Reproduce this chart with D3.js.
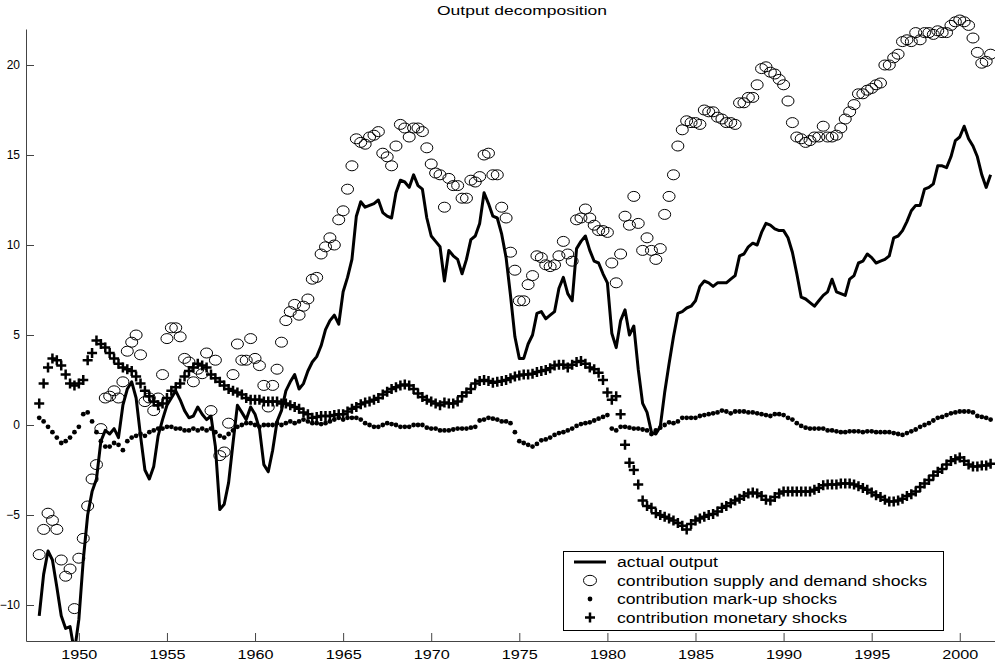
<!DOCTYPE html>
<html>
<head>
<meta charset="utf-8">
<script src="https://cdn.jsdelivr.net/npm/d3@7"></script>
<style>
  body { margin: 0; background: #fff; }
  text { font-family: "Liberation Sans", Arial, Helvetica, sans-serif; }
</style>
</head>
<body>
<script>
// quarterly data, first quarter plotted at 1947.75
const startYear = 1947.75

const actualOutput = [
  -10.6,-8.3,-7.0,-7.5,-9.0,-10.6,-11.3,-11.2,-12.6,-10.8,
  -7.5,-5.0,-3.7,-3.0,-0.9,-0.3,-0.5,-0.2,-0.7,1.1,
  2.0,2.4,1.5,-0.6,-2.5,-3.0,-2.3,-0.6,0.3,1.1,
  1.5,1.9,1.4,0.8,0.4,0.5,1.0,0.6,0.3,0.5,
  -1.2,-4.7,-4.4,-3.2,-1.0,1.1,0.7,0.3,1.0,0.6,
  -0.2,-2.2,-2.6,-1.4,0.2,0.8,1.9,2.4,2.8,2.0,
  2.3,3.0,3.5,3.8,4.4,5.3,5.8,6.1,5.6,7.4,
  8.2,9.2,11.6,12.4,12.1,12.2,12.3,12.5,11.8,11.6,
  11.5,12.9,13.6,13.5,13.2,13.9,13.3,13.1,11.5,10.5,
  10.2,9.9,8.0,9.7,9.4,9.2,8.4,9.2,10.3,10.5,
  11.2,12.9,12.3,11.6,11.5,10.6,9.3,7.2,4.9,3.7,
  3.7,4.5,5.0,6.2,6.3,5.9,6.1,6.3,7.6,8.2,
  7.3,6.9,9.8,10.2,10.5,9.7,9.1,9.0,8.4,7.9,
  5.1,4.3,5.8,6.4,5.0,5.5,3.1,1.2,0.7,-0.4,
  -0.5,-0.1,1.8,3.4,4.9,6.2,6.3,6.5,6.6,6.9,
  7.7,8.0,7.9,7.7,7.9,7.9,7.9,8.1,8.3,9.4,
  9.5,9.9,10.1,10.0,10.7,11.2,11.1,10.9,10.8,10.8,
  10.4,9.6,8.4,7.1,7.0,6.8,6.6,6.9,7.2,7.4,
  8.1,7.4,7.3,7.2,8.1,8.3,9.0,9.1,9.5,9.3,
  9.0,9.1,9.2,9.4,10.4,10.5,10.8,11.3,11.9,12.2,
  12.2,13.1,13.2,13.4,14.4,14.4,14.3,14.9,15.8,16.0,
  16.6,15.9,15.5,14.9,13.9,13.2,13.9
]

const supplyDemand = [
  -7.2,-5.8,-4.9,-5.3,-5.8,-7.5,-8.4,-8.0,-10.2,-7.4,
  -6.3,-4.5,-3.0,-2.2,-0.2,1.5,1.6,1.9,1.5,2.4,
  4.1,4.6,5.0,3.9,1.3,1.5,0.8,1.5,2.8,4.8,
  5.4,5.4,4.9,3.7,3.5,2.4,3.1,2.85,4.0,0.8,
  3.6,-1.7,-1.5,0.1,2.8,4.5,3.6,3.6,4.8,3.7,
  3.3,2.2,1.0,2.2,3.1,4.6,5.8,6.3,6.7,6.1,
  6.6,7.0,8.1,8.2,9.5,9.9,10.4,10.0,11.4,11.9,
  13.1,14.4,15.9,15.7,15.6,16.0,16.1,16.3,15.1,14.9,
  14.4,15.5,16.7,16.5,16.0,16.5,16.5,16.3,15.4,14.5,
  14.0,13.9,12.1,13.7,13.3,13.3,12.6,12.6,13.6,13.5,
  13.8,15.0,15.1,13.9,13.9,12.1,11.5,9.6,8.6,6.9,
  6.9,7.8,8.3,9.4,9.3,8.9,8.8,8.9,9.4,10.2,
  9.5,9.1,11.4,11.5,12.0,11.5,11.1,10.8,10.8,10.7,
  9.0,7.9,9.5,11.6,11.1,12.7,11.2,9.7,10.4,9.7,
  9.2,9.8,11.7,12.7,13.9,15.5,16.4,16.9,16.8,16.8,
  16.7,17.5,17.4,17.4,17.1,17.0,16.8,16.8,16.7,17.9,
  17.9,18.2,18.2,18.9,19.8,19.9,19.6,19.5,19.2,18.9,
  18.0,16.8,16.0,15.9,15.7,15.8,16.0,16.0,16.6,16.0,
  16.0,16.1,16.5,17.0,17.4,17.8,18.4,18.4,18.6,18.7,
  18.9,19.0,20.0,20.0,20.4,20.6,21.3,21.4,21.3,21.8,
  21.4,21.8,21.8,21.7,21.9,21.8,21.8,22.2,22.4,22.5,
  22.4,22.2,21.5,20.7,20.1,20.2,20.6
]

const markUp = [
  0.4,0.2,-0.1,-0.4,-0.7,-1.0,-0.9,-0.7,-0.4,-0.1,
  0.6,0.7,0.2,-0.4,-0.9,-1.2,-1.2,-1.0,-1.1,-1.4,
  -0.9,-0.7,-0.6,-0.5,-0.6,-0.4,-0.3,-0.2,-0.2,-0.1,
  -0.1,-0.2,-0.2,-0.3,-0.3,-0.2,-0.3,-0.2,-0.3,-0.2,
  -0.4,-0.6,-0.7,-0.5,-0.3,-0.1,0.0,0.1,0.1,0.0,
  -0.1,0.0,0.0,0.0,0.1,0.0,0.1,0.2,0.1,0.2,
  0.3,0.2,0.1,0.1,0.05,0.1,0.2,0.3,0.4,0.3,
  0.4,0.4,0.4,0.3,0.1,0.0,-0.1,-0.1,0.0,0.1,
  0.05,0.0,-0.1,-0.1,-0.1,0.0,0.0,0.0,-0.15,-0.2,
  -0.2,-0.3,-0.3,-0.3,-0.25,-0.2,-0.2,-0.2,-0.15,-0.1,
  0.25,0.3,0.4,0.35,0.3,0.2,0.2,0.1,-0.4,-0.9,
  -1.0,-1.1,-1.2,-1.05,-0.85,-0.8,-0.7,-0.55,-0.45,-0.4,
  -0.3,-0.2,-0.05,0.05,0.1,0.15,0.25,0.35,0.45,0.55,
  -0.2,-0.3,-0.1,-0.1,-0.15,-0.2,-0.2,-0.25,-0.3,-0.5,
  -0.3,-0.15,0.0,0.15,0.1,0.2,0.4,0.4,0.4,0.4,
  0.5,0.55,0.6,0.65,0.7,0.8,0.75,0.65,0.75,0.75,
  0.75,0.7,0.7,0.65,0.6,0.55,0.5,0.6,0.6,0.55,
  0.4,0.3,0.1,-0.05,-0.15,-0.2,-0.2,-0.2,-0.2,-0.3,
  -0.3,-0.35,-0.4,-0.4,-0.35,-0.35,-0.35,-0.4,-0.35,-0.35,
  -0.4,-0.4,-0.4,-0.4,-0.45,-0.5,-0.55,-0.45,-0.35,-0.25,
  -0.1,0.0,0.1,0.25,0.4,0.45,0.55,0.65,0.7,0.75,
  0.75,0.75,0.7,0.5,0.45,0.4,0.3
]

const monetary = [
  1.2,2.3,3.2,3.7,3.6,3.3,2.8,2.3,2.2,2.3,
  2.5,3.6,4.0,4.7,4.5,4.3,4.0,3.7,3.4,3.2,
  3.1,3.0,2.7,2.3,1.9,1.6,1.3,1.1,1.2,1.5,
  1.9,2.1,2.3,2.7,3.0,3.2,3.4,3.3,3.2,2.8,
  2.6,2.4,2.2,2.0,1.9,1.8,1.7,1.5,1.4,1.4,
  1.4,1.3,1.3,1.3,1.3,1.2,1.2,1.1,1.0,0.9,
  0.7,0.6,0.4,0.45,0.5,0.5,0.5,0.55,0.6,0.6,
  0.75,0.9,1.0,1.15,1.25,1.3,1.4,1.5,1.7,1.85,
  2.0,2.1,2.2,2.25,2.2,2.0,1.75,1.55,1.4,1.3,
  1.2,1.1,1.25,1.2,1.2,1.3,1.6,1.8,2.0,2.3,
  2.45,2.5,2.45,2.35,2.4,2.45,2.5,2.6,2.7,2.75,
  2.8,2.8,2.85,2.95,3.0,3.05,3.15,3.3,3.35,3.35,
  3.2,3.35,3.5,3.55,3.4,3.2,3.1,2.9,2.5,1.8,
  1.4,1.6,0.6,-1.1,-2.1,-2.5,-3.3,-4.2,-4.5,-4.6,
  -4.9,-5.0,-5.1,-5.2,-5.3,-5.45,-5.6,-5.8,-5.5,-5.3,
  -5.2,-5.1,-5.0,-4.95,-4.8,-4.6,-4.5,-4.35,-4.2,-4.1,
  -3.95,-3.8,-3.75,-3.8,-3.95,-4.15,-4.2,-4.0,-3.8,-3.7,
  -3.7,-3.7,-3.7,-3.7,-3.7,-3.7,-3.6,-3.5,-3.35,-3.3,
  -3.3,-3.3,-3.25,-3.25,-3.25,-3.3,-3.4,-3.5,-3.6,-3.75,
  -3.9,-4.0,-4.15,-4.25,-4.25,-4.2,-4.1,-3.95,-3.85,-3.7,
  -3.45,-3.25,-3.05,-2.8,-2.6,-2.45,-2.2,-2.0,-1.9,-1.8,
  -2.0,-2.2,-2.3,-2.3,-2.25,-2.25,-2.15
]

const yTicks = [-10, -5, 0, 5, 10, 15, 20]
const xTicks = [1950, 1955, 1960, 1965, 1970, 1975, 1980, 1985, 1990, 1995, 2000]
const legendLabels = [
  'actual output',
  'contribution supply and demand shocks',
  'contribution mark-up shocks',
  'contribution monetary shocks'
]
const legendWidths = [101, 310, 220, 230]

let width = 995
let height = 669
let plotLeft = 26, plotRight = 995, plotTop = 29, plotBottom = 641

const quarter = (d, i) => startYear + i / 4

const svg = d3.select('body').append('svg').attr('width', width).attr('height', height)

const xScale = d3.scaleLinear().domain([1947, 2002]).range([plotLeft, plotRight])
const yScale = d3.scaleLinear().domain([-12, 22]).range([plotBottom, plotTop])

svg.append('clipPath').attr('id', 'plotclip')
  .append('rect').attr('x', plotLeft).attr('y', plotTop)
  .attr('width', plotRight - plotLeft).attr('height', plotBottom - plotTop)

// title
svg.append('text')
  .attr('x', 522).attr('y', 15)
  .attr('text-anchor', 'middle')
  .attr('font-size', 13)
  .attr('textLength', 170)
  .attr('lengthAdjust', 'spacingAndGlyphs')
  .text('Output decomposition')

// axes, ticks pointing inwards like matlab
const yAxis = d3.axisLeft(yScale).tickValues(yTicks).tickSize(-8).tickSizeOuter(0).tickPadding(6)
const xAxis = d3.axisBottom(xScale).tickValues(xTicks).tickFormat(d3.format('d')).tickSize(-8).tickSizeOuter(0).tickPadding(9)

const gy = svg.append('g').attr('transform', `translate(${plotLeft},0)`).call(yAxis)
const gx = svg.append('g').attr('transform', `translate(0,${plotBottom})`).call(xAxis)

for (const g of [gx, gy]) {
  g.select('.domain').attr('stroke', '#444')
  g.selectAll('.tick line').attr('stroke', '#444')
  g.selectAll('.tick text').attr('fill', '#000').attr('font-size', 13)
    .attr('font-family', '"Liberation Sans", Arial, sans-serif')
}
gy.selectAll('.tick text').attr('font-size', 12)
gx.selectAll('.tick text').attr('textLength', 36).attr('lengthAdjust', 'spacingAndGlyphs')

// actual output line
const line = d3.line().x((d, i) => xScale(quarter(d, i))).y(d => yScale(d))

svg.append('path')
  .datum(actualOutput)
  .attr('clip-path', 'url(#plotclip)')
  .attr('d', line)
  .attr('fill', 'none')
  .attr('stroke', '#000')
  .attr('stroke-width', 3)
  .attr('stroke-linejoin', 'round')

// supply and demand: open circles
svg.append('g').selectAll('ellipse')
  .data(supplyDemand)
  .enter()
  .append('ellipse')
  .attr('cx', (d, i) => xScale(quarter(d, i)))
  .attr('cy', d => yScale(d))
  .attr('rx', 6)
  .attr('ry', 5)
  .attr('fill', 'none')
  .attr('stroke', '#000')
  .attr('stroke-width', 1)

// mark-up: dots
svg.append('g').selectAll('circle')
  .data(markUp)
  .enter()
  .append('circle')
  .attr('cx', (d, i) => xScale(quarter(d, i)))
  .attr('cy', d => yScale(d))
  .attr('r', 2.4)
  .attr('fill', '#000')

// monetary: plus signs
const plusPath = (cx, cy) => `M${cx - 5},${cy}H${cx + 5}M${cx},${cy - 5}V${cy + 5}`

svg.append('g').selectAll('path')
  .data(monetary)
  .enter()
  .append('path')
  .attr('d', (d, i) => plusPath(xScale(quarter(d, i)), yScale(d)))
  .attr('stroke', '#000')
  .attr('stroke-width', 2.5)
  .attr('fill', 'none')

// legend
const legend = svg.append('g').attr('id', 'legend')
legend.append('rect')
  .attr('x', 563.5).attr('y', 551.5).attr('width', 380).attr('height', 79)
  .attr('fill', '#fff').attr('stroke', '#000').attr('stroke-width', 1)

const rowY = [562, 580.5, 599, 617.5]

legend.append('line')
  .attr('x1', 574).attr('x2', 606).attr('y1', rowY[0]).attr('y2', rowY[0])
  .attr('stroke', '#000').attr('stroke-width', 3)
legend.append('ellipse')
  .attr('cx', 590).attr('cy', rowY[1]).attr('rx', 6.5).attr('ry', 5.2)
  .attr('fill', 'none').attr('stroke', '#000')
legend.append('circle')
  .attr('cx', 590).attr('cy', rowY[2]).attr('r', 2.4).attr('fill', '#000')
legend.append('path')
  .attr('d', plusPath(590, rowY[3]))
  .attr('stroke', '#000').attr('stroke-width', 2.5)

legend.selectAll('text.label')
  .data(legendLabels)
  .enter()
  .append('text')
  .attr('class', 'label')
  .attr('x', 617)
  .attr('y', (d, i) => rowY[i] + 5)
  .attr('font-size', 14)
  .attr('textLength', (d, i) => legendWidths[i])
  .attr('lengthAdjust', 'spacingAndGlyphs')
  .text(d => d)
</script>
</body>
</html>
